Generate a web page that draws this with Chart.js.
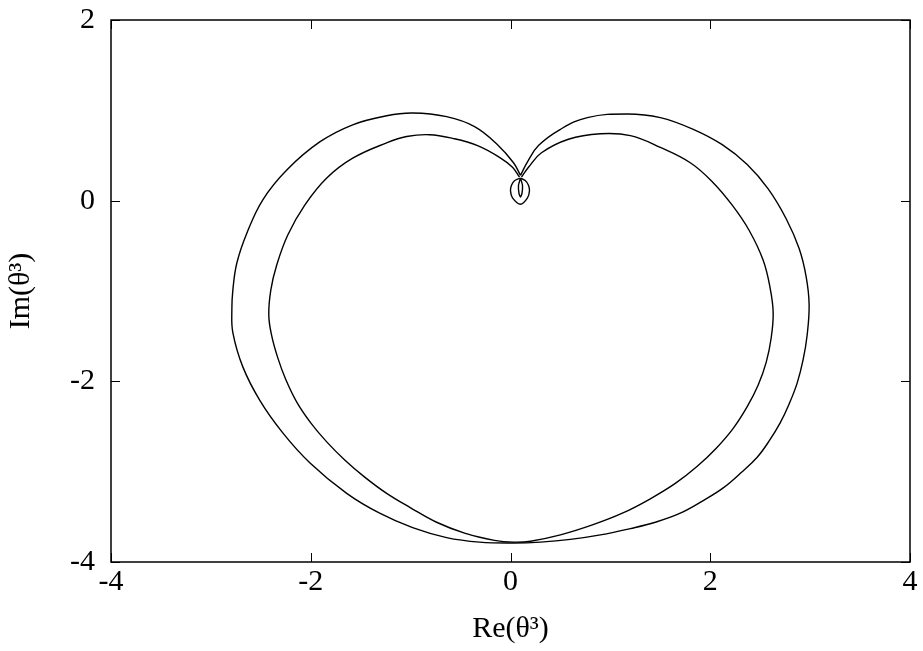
<!DOCTYPE html>
<html>
<head>
<meta charset="utf-8">
<script src="https://cdn.jsdelivr.net/npm/chart.js@4.4.1/dist/chart.umd.min.js"></script>
<style>
  html, body { margin: 0; padding: 0; background: #fff; }
  #wrap { width: 923px; height: 651px; }
</style>
</head>
<body>
<div id="wrap"><canvas id="c" width="923" height="651"></canvas></div>
<script>
// axis ticks
const xTicks = [-4, -2, 0, 2, 4];
const yTicks = [-4, -2, 0, 2];

// outer curve: cusp -> right hump -> right side -> bottom -> left side -> left hump -> cusp
const outerX = [0.10, 0.17, 0.28, 0.50, 0.77, 1.17, 1.50, 1.83, 2.12, 2.37, 2.58, 2.76, 2.89, 2.96, 2.99, 2.97, 2.93, 2.87, 2.79, 2.70, 2.59, 2.47, 2.31, 2.13, 1.93, 1.70, 1.45, 1.20, 0.90, 0.60, 0.30, 0.03, -0.31, -0.64, -0.98, -1.31, -1.64, -2.01, -2.28, -2.51, -2.68, -2.78, -2.79, -2.78, -2.74, -2.64, -2.48, -2.24, -1.91, -1.58, -1.24, -0.98, -0.64, -0.36, -0.13, 0.03, 0.10];
const outerY = [0.28, 0.43, 0.61, 0.79, 0.92, 0.96, 0.92, 0.79, 0.62, 0.40, 0.13, -0.20, -0.53, -0.84, -1.15, -1.49, -1.76, -2.02, -2.25, -2.46, -2.66, -2.84, -3.01, -3.18, -3.32, -3.46, -3.56, -3.63, -3.70, -3.75, -3.78, -3.79, -3.78, -3.73, -3.62, -3.46, -3.24, -2.90, -2.57, -2.21, -1.84, -1.46, -1.21, -0.99, -0.69, -0.36, 0.01, 0.34, 0.65, 0.84, 0.94, 0.97, 0.93, 0.82, 0.62, 0.42, 0.28];

// small loop hanging under the cusp
const loopX = [0.10, 0.04, 0.01, 0.00, 0.02, 0.10, 0.17, 0.19, 0.18, 0.15, 0.10];
const loopY = [0.25, 0.22, 0.17, 0.11, 0.03, -0.04, 0.03, 0.11, 0.17, 0.22, 0.25];

// inner curve, same order as the outer one
const innerX = [0.11, 0.18, 0.31, 0.58, 0.90, 1.20, 1.50, 1.80, 2.02, 2.22, 2.39, 2.53, 2.60, 2.63, 2.61, 2.56, 2.48, 2.37, 2.23, 2.06, 1.87, 1.65, 1.40, 1.12, 0.82, 0.50, 0.20, 0.03, -0.16, -0.46, -0.74, -1.00, -1.24, -1.46, -1.66, -1.84, -2.00, -2.14, -2.25, -2.33, -2.39, -2.42, -2.40, -2.34, -2.23, -2.06, -1.84, -1.58, -1.24, -1.04, -0.81, -0.58, -0.33, -0.11, 0.02, 0.09];
const innerY = [0.26, 0.37, 0.53, 0.68, 0.74, 0.72, 0.59, 0.42, 0.21, -0.05, -0.33, -0.66, -0.97, -1.24, -1.52, -1.79, -2.04, -2.28, -2.52, -2.74, -2.94, -3.13, -3.30, -3.46, -3.59, -3.70, -3.77, -3.78, -3.76, -3.68, -3.56, -3.40, -3.24, -3.06, -2.87, -2.67, -2.46, -2.23, -1.98, -1.74, -1.50, -1.27, -0.99, -0.71, -0.38, -0.05, 0.25, 0.47, 0.64, 0.71, 0.73, 0.69, 0.61, 0.48, 0.37, 0.26];

// narrow drop inside the loop
const dropX = [0.10, 0.08, 0.085, 0.10, 0.115, 0.12, 0.10];
const dropY = [0.25, 0.17, 0.08, 0.04, 0.08, 0.17, 0.25];

function pts(xs, ys) {
  return xs.map((x, i) => ({ x: x, y: ys[i] }));
}

const serif = "'Liberation Serif', 'DejaVu Serif', serif";

// frame and inward ticks on all four sides, like gnuplot
const framePlugin = {
  id: "frame",
  afterDraw(chart) {
    const ctx = chart.ctx;
    const a = chart.chartArea;
    const xs = chart.scales.x;
    const ys = chart.scales.y;
    ctx.save();
    ctx.strokeStyle = "#000";
    ctx.lineWidth = 1.5;
    ctx.strokeRect(a.left, a.top, a.right - a.left, a.bottom - a.top);
    ctx.lineWidth = 1;
    ctx.beginPath();
    xTicks.forEach(v => {
      const p = Math.round(xs.getPixelForValue(v)) + 0.5;
      ctx.moveTo(p, a.bottom); ctx.lineTo(p, a.bottom - 9);
      ctx.moveTo(p, a.top); ctx.lineTo(p, a.top + 9);
    });
    yTicks.forEach(v => {
      const p = Math.round(ys.getPixelForValue(v)) + 0.5;
      ctx.moveTo(a.left, p); ctx.lineTo(a.left + 9, p);
      ctx.moveTo(a.right, p); ctx.lineTo(a.right - 9, p);
    });
    ctx.stroke();
    ctx.restore();
  }
};

const lineStyle = {
  showLine: true,
  borderColor: "#000",
  borderWidth: 1.4,
  pointRadius: 0,
  fill: false,
  tension: 0.4
};

new Chart(document.getElementById("c"), {
  type: "scatter",
  data: {
    datasets: [
      Object.assign({ label: "outer", data: pts(outerX, outerY) }, lineStyle),
      Object.assign({ label: "loop", data: pts(loopX, loopY) }, lineStyle),
      Object.assign({ label: "inner", data: pts(innerX, innerY) }, lineStyle),
      Object.assign({ label: "drop", data: pts(dropX, dropY) }, lineStyle, { tension: 0.2 })
    ]
  },
  options: {
    responsive: false,
    animation: false,
    layout: { padding: { top: 20, right: 13, left: 0, bottom: 0 } },
    plugins: { legend: { display: false }, tooltip: { enabled: false } },
    scales: {
      x: {
        type: "linear",
        min: -4,
        max: 4,
        afterBuildTicks: s => { s.ticks = xTicks.map(v => ({ value: v })); },
        afterFit: s => { s.height = 89; },
        grid: { display: false, drawTicks: false },
        border: { display: false },
        ticks: { color: "#000", padding: 2, font: { family: serif, size: 30 } },
        title: { display: true, text: "Re(θ³)", color: "#000", padding: { top: 0 }, font: { family: serif, size: 30 } }
      },
      y: {
        type: "linear",
        min: -4,
        max: 2,
        afterBuildTicks: s => { s.ticks = yTicks.map(v => ({ value: v })); },
        afterFit: s => { s.width = 111; },
        grid: { display: false, drawTicks: false },
        border: { display: false },
        // small lineHeight so the top label does not push the plot area down
        ticks: { color: "#000", padding: 16, font: { family: serif, size: 30, lineHeight: 0.2 } },
        title: { display: true, text: "Im(θ³)", color: "#000", padding: { top: 3, bottom: 4 }, font: { family: serif, size: 30 } }
      }
    }
  },
  plugins: [framePlugin]
});
</script>
</body>
</html>
